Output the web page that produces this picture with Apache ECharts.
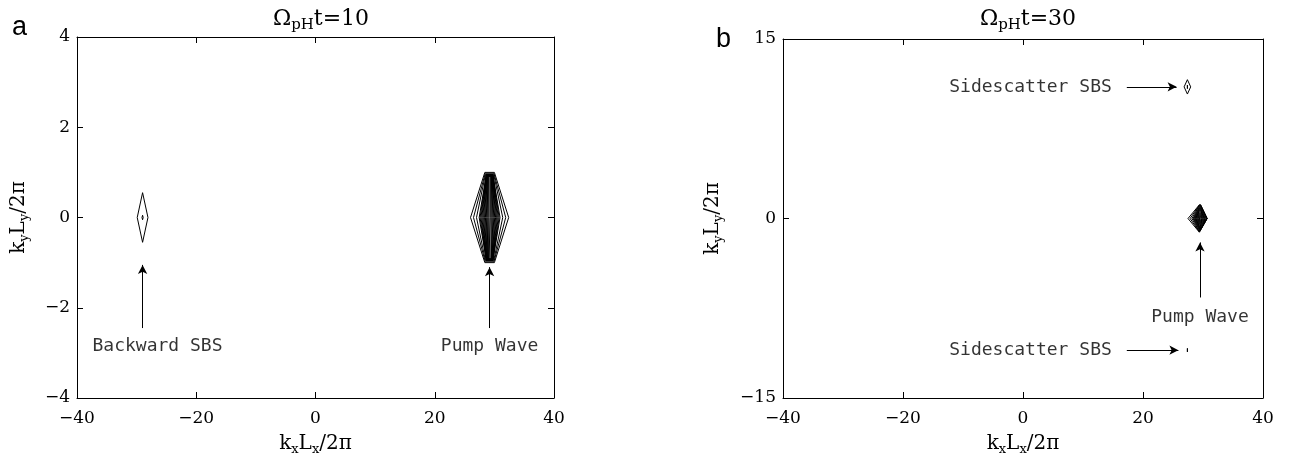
<!DOCTYPE html>
<html><head><meta charset="utf-8">
<script src="https://cdn.jsdelivr.net/npm/echarts@6/dist/echarts.min.js"></script>
<style>html,body{margin:0;padding:0;background:#fff}#c{width:1292px;height:457px}</style>
</head><body><div id="c"></div>
<script>
// ---- axis ticks ----
const xRange = [-40, 40];
const xStep = 20;
const yRangeA = [-4, 4];
const yStepA = 2;
const yRangeB = [-15, 15];
const yStepB = 15;
const titles = ['10', '30'];

// ---- contour levels: [cx, cy, halfWidthLeft, halfWidthRight, halfWidthTop, halfHeight] ----
const backwardA = [
  [-29, 0, 0.9, 0.9, 0, 0.55],
  [-29, 0, 0.1, 0.1, 0, 0.05]
];
const pumpA = [
  [29.2, 0, 3.2, 3.2, 0.8, 1.0],
  [29.2, 0, 2.7, 2.7, 0.75, 0.97],
  [29.2, 0, 2.2, 2.2, 0.7, 0.95],
  [29.2, 0, 1.75, 1.75, 0.55, 0.95],
  [29.2, 0, 1.6, 1.6, 0.55, 0.95],
  [29.2, 0, 1.45, 1.45, 0.53, 0.95],
  [29.2, 0, 1.3, 1.3, 0.53, 0.94],
  [29.2, 0, 1.15, 1.15, 0.5, 0.94],
  [29.2, 0, 1.0, 1.0, 0.5, 0.93],
  [29.2, 0, 0.85, 0.85, 0.45, 0.93],
  [29.2, 0, 0.7, 0.7, 0.4, 0.93],
  [29.2, 0, 0.55, 0.55, 0.35, 0.92],
  [29.2, 0, 0.4, 0.4, 0.3, 0.92],
  [29.2, 0, 0.25, 0.25, 0.2, 0.92],
  [29.2, 0, 0.1, 0.1, 0.1, 0.92]
];
const sideTopB = [
  [27.4, 11, 0.55, 0.55, 0, 0.6],
  [27.4, 11, 0.12, 0.12, 0, 0.15]
];
const sideBotB = [
  [27.4, -11, 0.18, 0.18, 0, 0.15]
];
const pumpB = [
  [29.5, 0, 2.0, 1.2, 0.1, 1.15],
  [29.5, 0, 1.65, 1.18, 0.1, 1.12],
  [29.5, 0, 1.35, 1.16, 0.1, 1.1],
  [29.5, 0, 1.15, 1.15, 0.05, 1.05],
  [29.5, 0, 1.05, 1.05, 0.05, 0.97],
  [29.5, 0, 0.95, 0.95, 0.05, 0.88],
  [29.5, 0, 0.85, 0.85, 0.05, 0.8],
  [29.5, 0, 0.75, 0.75, 0.05, 0.7],
  [29.5, 0, 0.65, 0.65, 0.05, 0.6],
  [29.5, 0, 0.55, 0.55, 0.05, 0.5],
  [29.5, 0, 0.45, 0.45, 0.05, 0.42],
  [29.5, 0, 0.35, 0.35, 0.05, 0.33],
  [29.5, 0, 0.25, 0.25, 0.05, 0.24],
  [29.5, 0, 0.15, 0.15, 0.05, 0.15],
  [29.5, 0, 0.05, 0.05, 0.02, 0.05]
];

// ---- annotations ----
const labelsA = [[-26.5, -2.85, 'Backward SBS'], [29.2, -2.85, 'Pump Wave']];
const arrowsA = [[-29, -2.45, -29, -1.05], [29.2, -2.45, 29.2, -1.1]];
const labelsBRight = [[14.8, 11, 'Sidescatter SBS'], [14.8, -11, 'Sidescatter SBS']];
const labelsBCenter = [[29.5, -8.3, 'Pump Wave']];
const arrowsB = [[17.3, 11, 25.6, 11], [17.3, -11, 25.9, -11], [29.5, -6.6, 29.5, -2.0]];

// ---- build ----
const SERIF = '"DejaVu Serif", "Liberation Serif", serif';
const MONO = '"DejaVu Sans Mono", "Liberation Mono", monospace';

function poly(c) {
  const [cx, cy, wl, wr, wt, h] = c;
  return [[cx - wt, cy + h], [cx - wl, cy], [cx - wt, cy - h], [cx + wt, cy - h], [cx + wr, cy], [cx + wt, cy + h], [cx - wt, cy + h]];
}
function contourSeries(levels, gi) {
  return levels.map(c => ({
    type: 'line', xAxisIndex: gi * 2, yAxisIndex: gi * 2, data: poly(c),
    symbol: 'none', silent: true, animation: false,
    lineStyle: { color: '#000', width: 1 }
  }));
}
function arrowSeries(arrows, gi) {
  return {
    type: 'line', xAxisIndex: gi * 2, yAxisIndex: gi * 2, data: [], silent: true, animation: false,
    markLine: {
      silent: true, animation: false, symbol: ['none', 'arrow'], symbolSize: [7, 9],
      lineStyle: { color: '#000', width: 1, type: 'solid' }, label: { show: false },
      data: arrows.map(a => [{ coord: [a[0], a[1]] }, { coord: [a[2], a[3]] }])
    }
  };
}
function textSeries(items, gi, align) {
  return {
    type: 'scatter', xAxisIndex: gi * 2, yAxisIndex: gi * 2, symbolSize: 0, silent: true, animation: false,
    data: items.map(t => ({ value: t })),
    label: {
      show: true, position: 'inside', align: align, verticalAlign: 'middle', color: '#000',
      fontFamily: MONO, fontSize: 18, formatter: p => p.value[2]
    }
  };
}
const minus = v => String(v).replace('-', '\u2212');

const nameRich = {
  m: { fontFamily: SERIF, fontSize: 20, color: '#000', lineHeight: 26 },
  s: { fontFamily: SERIF, fontSize: 13, color: '#000', lineHeight: 26, padding: [11, 0, 0, 0] }
};

function xAxes(gi) {
  const base = {
    gridIndex: gi, type: 'value', min: xRange[0], max: xRange[1], interval: xStep,
    axisLine: { onZero: false, lineStyle: { color: '#000', width: 1 } },
    axisTick: { inside: true, length: 6, lineStyle: { color: '#000' } },
    splitLine: { show: false }
  };
  return [
    Object.assign({}, base, {
      position: 'bottom',
      axisLabel: { color: '#000', fontFamily: SERIF, fontSize: 17, margin: 12, formatter: minus },
      name: '{m|k}{s|x}{m|L}{s|x}{m|/2π}', nameLocation: 'middle', nameGap: 33,
      nameTextStyle: { rich: nameRich }
    }),
    Object.assign({}, base, { position: 'top', axisLabel: { show: false } })
  ];
}
function yAxes(gi, range, step, gap) {
  const base = {
    gridIndex: gi, type: 'value', min: range[0], max: range[1], interval: step,
    axisLine: { onZero: false, lineStyle: { color: '#000', width: 1 } },
    axisTick: { inside: true, length: 6, lineStyle: { color: '#000' } },
    splitLine: { show: false }
  };
  return [
    Object.assign({}, base, {
      position: 'left',
      axisLabel: { color: '#000', fontFamily: SERIF, fontSize: 17, margin: 7, formatter: minus },
      name: '{m|k}{s|y}{m|L}{s|y}{m|/2π}', nameLocation: 'middle', nameGap: gap, nameRotate: 90,
      nameTextStyle: { rich: nameRich }
    }),
    Object.assign({}, base, { position: 'right', axisLabel: { show: false } })
  ];
}

const titleRich = {
  o: { fontFamily: SERIF, fontSize: 22, fontWeight: 'normal', color: '#000' },
  p: { fontFamily: SERIF, fontSize: 15, fontWeight: 'normal', color: '#000', padding: [12, 0, 0, 0] }
};
const letterStyle = { fontFamily: '"Liberation Sans", Arial, sans-serif', fontSize: 27, fontWeight: 'normal', color: '#000' };

const option = {
  backgroundColor: '#fff',
  animation: false,
  title: [
    { text: '{o|Ω}{p|pH}{o|t=' + titles[0] + '}', left: 316, top: 1, textAlign: 'center', textStyle: { fontWeight: 'normal', rich: titleRich } },
    { text: '{o|Ω}{p|pH}{o|t=' + titles[1] + '}', left: 1023, top: 1, textAlign: 'center', textStyle: { fontWeight: 'normal', rich: titleRich } },
    { text: 'a', left: 7, top: 9, textStyle: letterStyle },
    { text: 'b', left: 711, top: 21, textStyle: letterStyle }
  ],
  grid: [
    { left: 77, top: 37, width: 477, height: 361, containLabel: false, outerBoundsMode: 'none' },
    { left: 783, top: 39, width: 480, height: 359, containLabel: false, outerBoundsMode: 'none' }
  ],
  xAxis: [].concat(xAxes(0), xAxes(1)),
  yAxis: [].concat(yAxes(0, yRangeA, yStepA, 45), yAxes(1, yRangeB, yStepB, 57)),
  series: [].concat(
    contourSeries(backwardA, 0),
    contourSeries(pumpA, 0),
    contourSeries(sideTopB, 1),
    contourSeries(sideBotB, 1),
    contourSeries(pumpB, 1),
    [arrowSeries(arrowsA, 0), arrowSeries(arrowsB, 1),
     textSeries(labelsA, 0, 'center'),
     textSeries(labelsBRight, 1, 'right'),
     textSeries(labelsBCenter, 1, 'center')]
  )
};
const chart = echarts.init(document.getElementById('c'), null, { renderer: 'canvas' });
chart.setOption(option);
</script>
</body></html>
